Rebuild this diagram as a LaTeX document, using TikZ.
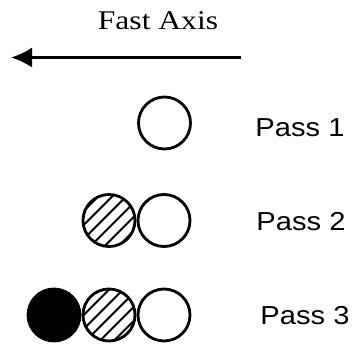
\documentclass[tikz,border=0pt]{standalone}
\usepackage{fontspec}
\usepackage{tikz}
\usetikzlibrary{arrows.meta,patterns.meta,positioning}

\newfontfamily\axisfont{Liberation Serif}
\newfontfamily\passfont{Liberation Sans}

\begin{document}
\begin{tikzpicture}[x=1pt,y=-1pt,>={Latex[length=21pt,width=20pt]},
        node distance=55pt,
        dot/.style={circle,draw,line width=2.8pt,inner sep=0pt,minimum size=52pt},
        hatched/.style={dot,pattern={Lines[angle=45,distance=10.5pt,line width=2.4pt]}},
        solid/.style={dot,fill=black},
        passlabel/.style={font=\passfont\fontsize{26}{28}\selectfont,xscale=1.12,inner sep=0pt}]

    \useasboundingbox (0,0) rectangle (354,348);

    % direction of the fast axis
    \node[font=\axisfont\fontsize{27}{30}\selectfont,xscale=1.17,inner sep=0pt] (title) at (158,21) {Fast Axis};
    \coordinate (axisstart) at (241,57.5);
    \coordinate (axisend) at (11,57.5);
    \draw[->,line width=2.4pt] (axisstart) -- (axisend);

    % one row per pass
    \node[dot] (w1) at (164.5,123) {};
    \node[dot] (w2) at (164,220.5) {};
    \node[hatched] (h2) [left of=w2] {};
    \node[dot] (w3) at (164,315) {};
    \node[hatched] (h3) [left of=w3] {};
    \node[solid] (b3) [left of=h3] {};

    \node[passlabel] (p1) at (300,127.5) {Pass 1};
    \node[passlabel] (p2) at (301,222) {Pass 2};
    \node[passlabel] (p3) at (305,316) {Pass 3};

\end{tikzpicture}
\end{document}
